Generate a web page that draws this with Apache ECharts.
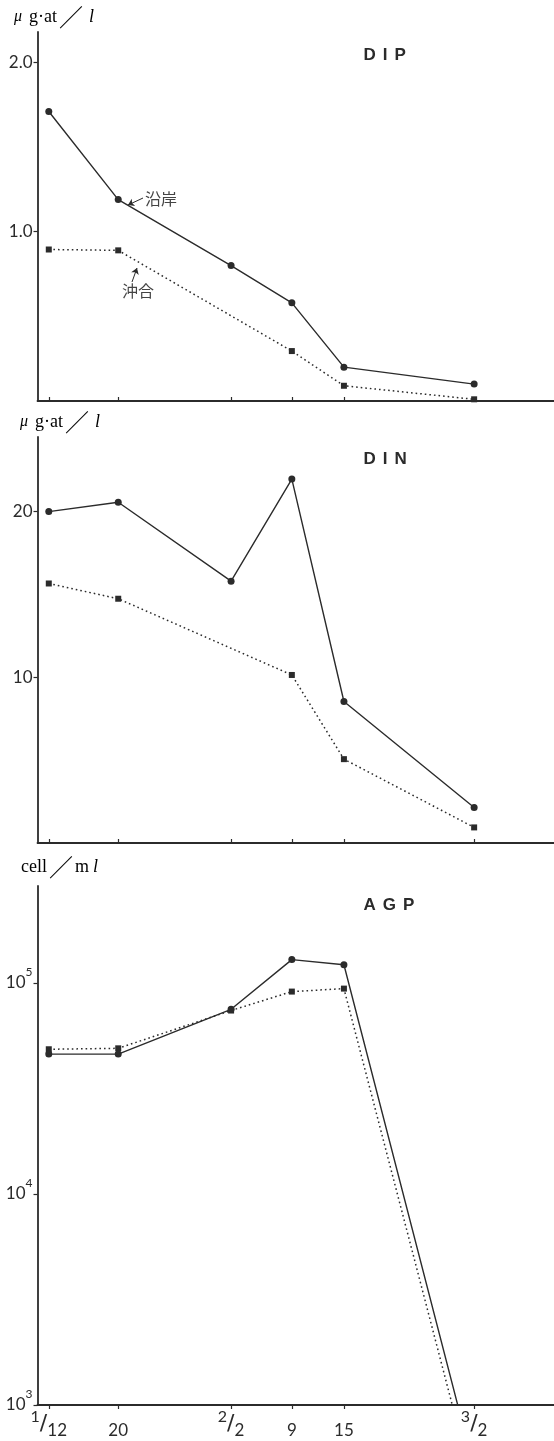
<!DOCTYPE html>
<html><head><meta charset="utf-8">
<script src="https://cdn.jsdelivr.net/npm/echarts@6/dist/echarts.min.js"></script>
<style>html,body{margin:0;padding:0;background:#fff}#c{width:554px;height:1441px}</style>
</head><body><div id="c"></div>
<script>
// ---- data ----
const dateLabels = ['1/12', '20', '2/2', '9', '15', '3/2'];
const sampleDays = [12, 20, 33, 40, 46, 61];           // day of year of each sampling date
const dipCoast    = [1.71, 1.19, 0.80, 0.58, 0.20, 0.10];
const dipOffshore = [0.895, 0.89, null, 0.295, 0.09, 0.01];
const dinCoast    = [20.0, 20.56, 15.8, 21.96, 8.54, 2.14];
const dinOffshore = [15.66, 14.74, null, 10.14, 5.06, 0.94];
const agpCoast    = [46000, 46000, 75000, 129000, 122000, 500];
const agpOffshore = [48500, 49000, 74000, 91000, 94000, 400];
const dipTicks = [1, 2];
const dinTicks = [10, 20];
const agpTicks = [1000, 10000, 100000];
const panelTitles = ['DIP', 'DIN', 'AGP'];
const seriesNames = ['沿岸', '沖合'];

// ---- styling ----
const C = '#2b2b2b';
const NUM_FONT = 'Lato';
const axisLineStyle = { color: C, width: 1.8 };

function pts(arr) {
  const out = [];
  arr.forEach((v, i) => { if (v !== null) out.push([sampleDays[i], v]); });
  return out;
}

const grids = [
  { left: 37.5, right: 0, top: 32, height: 369, outerBoundsMode: 'none' },
  { left: 37.5, right: 0, top: 437, height: 406, outerBoundsMode: 'none' },
  { left: 37.5, right: 0, top: 886, height: 519, outerBoundsMode: 'none' }
];

function xAx(i) {
  const last = i === 2;
  return {
    gridIndex: i, type: 'value', min: 10.7, max: 70.2,
    axisLine: { show: true, onZero: false, lineStyle: axisLineStyle },
    axisTick: { show: true, inside: !last, length: 4, customValues: sampleDays, lineStyle: { color: C, width: 1.2 } },
    splitLine: { show: false },
    axisLabel: last ? {
      show: true, customValues: sampleDays, margin: 4, color: C,
      formatter: function (v) {
        const idx = sampleDays.indexOf(v);
        const s = idx >= 0 ? dateLabels[idx] : '';
        if (s.indexOf('/') >= 0) {
          const p = s.split('/');
          return '{n|' + p[0] + '}{sl|/}{d|' + p[1] + '}';
        }
        return '{z|\u200b}{p|' + s + '}';
      },
      rich: {
        n: { fontFamily: NUM_FONT, fontSize: 16, lineHeight: 16, padding: [0, 0, 14, 0], verticalAlign: 'middle', color: C },
        sl: { fontFamily: 'DejaVu Sans', fontSize: 22, lineHeight: 30, verticalAlign: 'middle', color: C },
        d: { fontFamily: NUM_FONT, fontSize: 17, lineHeight: 17, padding: [13, 0, 0, 0], verticalAlign: 'middle', color: C },
        z: { fontSize: 2, lineHeight: 30, verticalAlign: 'middle', color: C },
        p: { fontFamily: NUM_FONT, fontSize: 17, lineHeight: 17, verticalAlign: 'bottom', color: C }
      }
    } : { show: false }
  };
}

const yAxes = [
  {
    gridIndex: 0, type: 'value', min: 0, max: 2.18,
    axisLine: { show: true, lineStyle: axisLineStyle },
    axisTick: { show: true, inside: false, length: 4, customValues: dipTicks, lineStyle: { color: C, width: 1.2 } },
    axisLabel: { customValues: dipTicks, formatter: v => v.toFixed(1), margin: 5, fontFamily: NUM_FONT, fontSize: 17, color: C },
    splitLine: { show: false }
  },
  {
    gridIndex: 1, type: 'value', min: 0, max: 24.5,
    axisLine: { show: true, lineStyle: axisLineStyle },
    axisTick: { show: true, inside: false, length: 4, customValues: dinTicks, lineStyle: { color: C, width: 1.2 } },
    axisLabel: { customValues: dinTicks, formatter: v => String(v), margin: 5, fontFamily: NUM_FONT, fontSize: 17, color: C },
    splitLine: { show: false }
  },
  {
    gridIndex: 2, type: 'log', logBase: 10, min: 1000, max: 288000,
    axisLine: { show: true, lineStyle: axisLineStyle },
    axisTick: { show: true, inside: false, length: 4, customValues: agpTicks, lineStyle: { color: C, width: 1.2 } },
    axisLabel: {
      customValues: agpTicks, margin: 5, color: C,
      formatter: v => '{b|10}{s|' + Math.round(Math.log10(v)) + '}',
      rich: {
        b: { fontFamily: NUM_FONT, fontSize: 17, lineHeight: 17, verticalAlign: 'middle', color: C },
        s: { fontFamily: NUM_FONT, fontSize: 12, lineHeight: 12, padding: [0, 0, 21, 0], verticalAlign: 'middle', color: C }
      }
    },
    splitLine: { show: false }
  }
];

function mk(name, arr, gi, coast, extra) {
  const s = {
    name: name, type: 'line', xAxisIndex: gi, yAxisIndex: gi,
    data: pts(arr),
    symbol: coast ? 'circle' : 'rect',
    symbolSize: coast ? 7 : 6,
    showSymbol: true, clip: true, silent: true,
    lineStyle: { color: C, width: coast ? 1.4 : 1.5, type: coast ? 'solid' : [1.6, 3] },
    itemStyle: { color: C },
    z: coast ? 3 : 2
  };
  if (extra) Object.assign(s, extra);
  return s;
}

const arrowLine = (pair) => ({
  silent: true, symbol: ['none', 'arrow'], symbolSize: 6,
  lineStyle: { type: 'solid', width: 1, color: C },
  label: { show: false },
  data: [pair]
});

const series = [
  mk(seriesNames[0], dipCoast, 0, true, { markLine: arrowLine([{ x: 143, y: 198 }, { x: 128, y: 205 }]) }),
  mk(seriesNames[1], dipOffshore, 0, false, { markLine: arrowLine([{ x: 132, y: 282 }, { x: 137, y: 268 }]) }),
  mk(seriesNames[0], dinCoast, 1, true),
  mk(seriesNames[1], dinOffshore, 1, false),
  mk(seriesNames[0], agpCoast, 2, true),
  mk(seriesNames[1], agpOffshore, 2, false)
];

const titleTops = [47, 451, 897];
const titles = panelTitles.map((t, i) => ({
  text: t.split('').map(c => '{a|' + c + '}').join(''),
  left: 360, top: titleTops[i], padding: 0,
  textStyle: { rich: { a: { fontFamily: 'Liberation Sans', fontWeight: 'bold', fontSize: 17, color: C, padding: [0, 3.5, 0, 3.5] } } }
}));

const unitRich = {
  m: { fontFamily: 'Liberation Serif', fontStyle: 'italic', fontSize: 16, color: '#444', padding: [0, 7, 0, 0] },
  t: { fontFamily: 'Liberation Serif', fontSize: 18, color: '#444' },
  sl: { fontFamily: 'Noto Sans CJK JP', fontSize: 24, color: '#444', padding: [0, 2, 0, 2] },
  l: { fontFamily: 'Liberation Serif', fontStyle: 'italic', fontSize: 18, color: '#444', padding: [0, 0, 0, 4] }
};
const graphics = [
  { type: 'text', left: 14, top: 5, silent: true, style: { text: '{m|μ}{t|g·at}{sl|／}{l|l}', rich: unitRich } },
  { type: 'text', left: 20, top: 410, silent: true, style: { text: '{m|μ}{t|g·at}{sl|／}{l|l}', rich: unitRich } },
  { type: 'text', left: 21, top: 855, silent: true, style: { text: '{t|cell}{sl|／}{t|m}{l|l}', rich: unitRich } },
  { type: 'text', left: 145, top: 191, silent: true, style: { text: seriesNames[0], fontFamily: 'Noto Sans CJK JP', fontSize: 16, fill: '#444' } },
  { type: 'text', left: 122, top: 283, silent: true, style: { text: seriesNames[1], fontFamily: 'Noto Sans CJK JP', fontSize: 16, fill: '#444' } }
];

const chart = echarts.init(document.getElementById('c'), null, { renderer: 'canvas' });
chart.setOption({
  backgroundColor: '#ffffff',
  animation: false,
  title: titles,
  grid: grids,
  xAxis: [xAx(0), xAx(1), xAx(2)],
  yAxis: yAxes,
  series: series,
  graphic: graphics
});
</script></body></html>
